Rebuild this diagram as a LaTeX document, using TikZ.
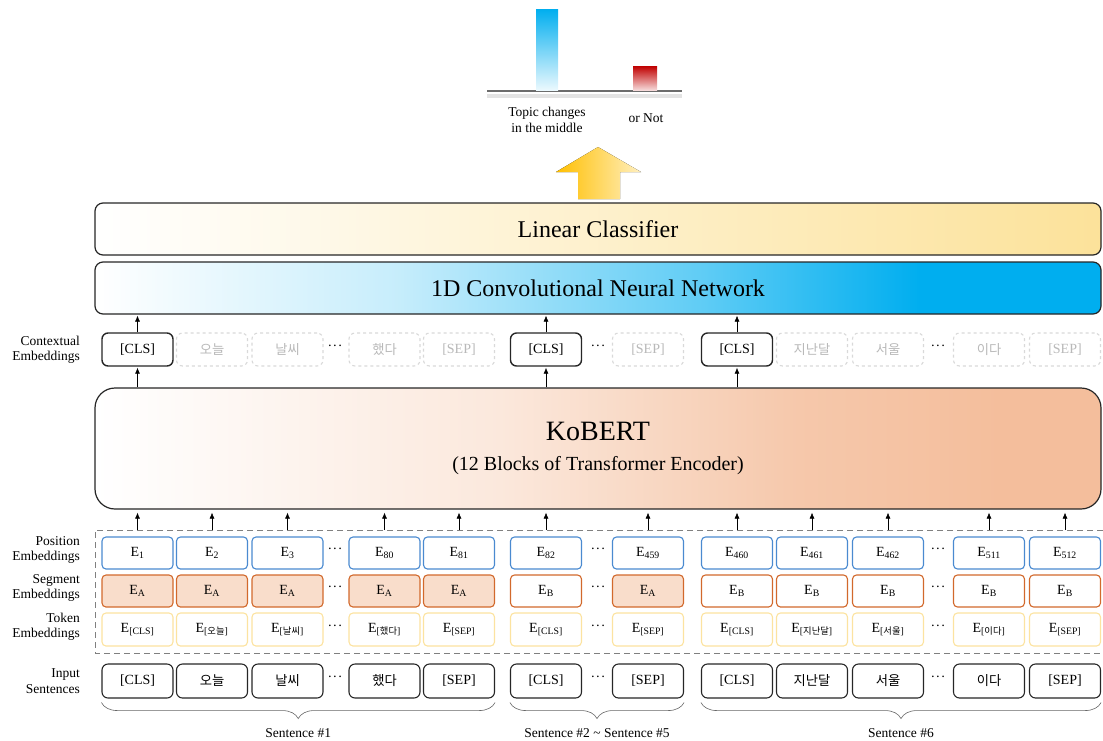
\documentclass[tikz,border=0pt]{standalone}
\usepackage{fontspec}
\setmainfont{Liberation Serif}
\newfontfamily\krfont[Scale=0.95]{Noto Sans CJK KR}
\usetikzlibrary{arrows.meta,decorations.pathreplacing}
\definecolor{posblue}{HTML}{4A8AD0}
\definecolor{segorange}{HTML}{D2692C}
\definecolor{segfill}{HTML}{F9DDCB}
\definecolor{tokyellow}{HTML}{FCE3A0}
\definecolor{cnnblue}{HTML}{00AEEF}
\definecolor{lcyellow}{HTML}{FCE29A}
\definecolor{kopeach}{HTML}{F4BE9C}
\definecolor{barred}{HTML}{C00000}
\definecolor{arrgold}{HTML}{FFBF00}
\colorlet{cnnlight}{cnnblue!22}
\colorlet{cnnmid}{cnnblue!62}
\colorlet{kolight}{kopeach!35}
\colorlet{komid}{kopeach!85}
\pgfdeclarehorizontalshading{cnnshade}{100bp}{color(0bp)=(white); color(25bp)=(white); color(40bp)=(cnnlight); color(55bp)=(cnnmid); color(66bp)=(cnnblue); color(100bp)=(cnnblue)}
\pgfdeclarehorizontalshading{koshade}{100bp}{color(0bp)=(white); color(25bp)=(white); color(45bp)=(kolight); color(60bp)=(komid); color(70bp)=(kopeach); color(100bp)=(kopeach)}
\newcommand\ko[1]{{\krfont #1}}
\newcommand\boxfont{\fontsize{14}{16}\selectfont}
\newcommand\labelfont{\fontsize{13.5}{15.5}\selectfont}
\newcommand\stagefont{\fontsize{24}{28}\selectfont}
\newcommand\skipdots{\textperiodcentered\kern0.5pt\textperiodcentered\kern0.5pt\textperiodcentered}
\tikzset{
  emb/.style={rounded corners=4pt,minimum width=71pt,minimum height=32pt,line width=1.1pt,fill=white,inner sep=0pt,font=\boxfont},
  posbox/.style={emb,draw=posblue},
  segA/.style={emb,draw=segorange,fill=segfill},
  segB/.style={emb,draw=segorange},
  tokbox/.style={emb,draw=tokyellow,minimum height=33pt},
  inbox/.style={emb,draw=black!85,minimum height=34pt,rounded corners=6pt},
  ctxon/.style={inbox,minimum height=33pt,line width=1.4pt},
  ctxoff/.style={emb,draw=gray!30,dashed,text=gray!55,minimum height=33pt,rounded corners=6pt},
  stage/.style={draw=black!85,line width=1.2pt,rounded corners=8pt,minimum width=1006pt,minimum height=52pt,font=\stagefont},
  feed/.style={-{Latex[length=6pt,width=5pt]},line width=0.6pt},
  rowlabel/.style={anchor=east,align=right,inner sep=0pt,font=\labelfont},
  embframe/.style={gray,line width=1pt,dash pattern=on 6pt off 4pt},
  sentbrace/.style={decorate,decoration={brace,mirror,amplitude=16pt},draw=black!60,line width=0.6pt}
}

\begin{document}
\begin{tikzpicture}[x=1pt,y=-1pt]
  \useasboundingbox (0,0) rectangle (1103,740);

  % Output bars
  \fill[gray!22] (487,93.5) rectangle (682,97.5);
  \draw[gray!85!black,line width=2pt] (487,91) -- (682,91);
  \shade[top color=cnnblue,bottom color=cnnblue!8] (536,9) rectangle (558,90);
  \shade[top color=barred,bottom color=barred!15] (633,66) rectangle (657,90);
  \node[font=\labelfont,align=center] (topic) at (547,120) {Topic changes\\in the middle};
  \node[font=\labelfont] (ornot) at (646,118) {or Not};
  \fill[left color=arrgold,right color=arrgold!25] (578,199) -- (578,172) -- (556,172) -- (598,147) -- (641,172) -- (620,172) -- (620,199) -- cycle;

  % Stages
  \node[stage,left color=white,right color=lcyellow] (lc) at (598,229) {Linear Classifier};
  \node[stage,shading=cnnshade] (cnn) at (598,288) {1D Convolutional Neural Network};
  \node[stage,shading=koshade,minimum height=121pt,rounded corners=20pt,align=center,font=\fontsize{20}{30}\selectfont] (kobert) at (598,448.5)
    {{\fontsize{28}{30}\selectfont KoBERT}\\(12 Blocks of Transformer Encoder)};

  % Row labels
  \node[rowlabel] (lctx) at (80,350) {Contextual\\Embeddings};
  \node[rowlabel] (lpos) at (80,550) {Position\\Embeddings};
  \node[rowlabel] (lseg) at (80,588) {Segment\\Embeddings};
  \node[rowlabel] (ltok) at (80,627) {Token\\Embeddings};
  \node[rowlabel] (linp) at (80,681) {Input\\Sentences};

  % Embedding frame
  \coordinate (frame) at (95,530);
  \draw[embframe] (1103,530) -- (frame) -- (95,653) -- (1103,653);

  % Token columns
  \foreach \x/\pnum/\seg/\inp/\sub/\ctx [count=\i] in {
      137.5/1/A/[CLS]/[CLS]/ctxon,
      212/2/A/\ko{오늘}/[\ko{오늘}]/ctxoff,
      287.5/3/A/\ko{날씨}/[\ko{날씨}]/ctxoff,
      384.5/80/A/\ko{했다}/[\ko{했다}]/ctxoff,
      459/81/A/[SEP]/[SEP]/ctxoff,
      546/82/B/[CLS]/[CLS]/ctxon,
      648/459/A/[SEP]/[SEP]/ctxoff,
      737/460/B/[CLS]/[CLS]/ctxon,
      812/461/B/\ko{지난달}/[\ko{지난달}]/ctxoff,
      888/462/B/\ko{서울}/[\ko{서울}]/ctxoff,
      989/511/B/\ko{이다}/[\ko{이다}]/ctxoff,
      1065/512/B/[SEP]/[SEP]/ctxoff} {
    \node[\ctx] (c\i) at (\x,349.5) {\inp};
    \node[posbox] (p\i) at (\x,553) {E\textsubscript{\pnum}};
    \node[seg\seg] (s\i) at (\x,591) {E\textsubscript{\seg}};
    \node[tokbox] (t\i) at (\x,629.5) {E\textsubscript{\sub}};
    \node[inbox] (in\i) at (\x,681) {\inp};
    \draw[feed,shorten >=3pt] (frame -| p\i) -- (kobert.south -| p\i);
  }

  % Ellipses
  \foreach \y [count=\r] in {348,551,589,627.5,679}
    \foreach \x [count=\k] in {335,598,938}
      \node[font=\boxfont] (d\r\k) at (\x,\y) {\skipdots};

  % CLS outputs
  \foreach \i in {1,6,8} {
    \draw[feed,shorten >=1pt] (kobert.north -| c\i) -- (c\i.south);
    \draw[feed,shorten >=1pt] (c\i.north) -- (cnn.south -| c\i);
  }

  % Sentences
  \draw[sentbrace] ([yshift=-4pt]in1.south west) -- ([yshift=-4pt]in5.south east) node[midway,below=22pt,font=\labelfont] (sent1) {Sentence \#1};
  \draw[sentbrace] ([yshift=-4pt]in6.south west) -- ([yshift=-4pt]in7.south east) node[midway,below=22pt,font=\labelfont] (sent2) {Sentence \#2 \textasciitilde{} Sentence \#5};
  \draw[sentbrace] ([yshift=-4pt]in8.south west) -- ([yshift=-4pt]in12.south east) node[midway,below=22pt,font=\labelfont] (sent6) {Sentence \#6};
\end{tikzpicture}
\end{document}
